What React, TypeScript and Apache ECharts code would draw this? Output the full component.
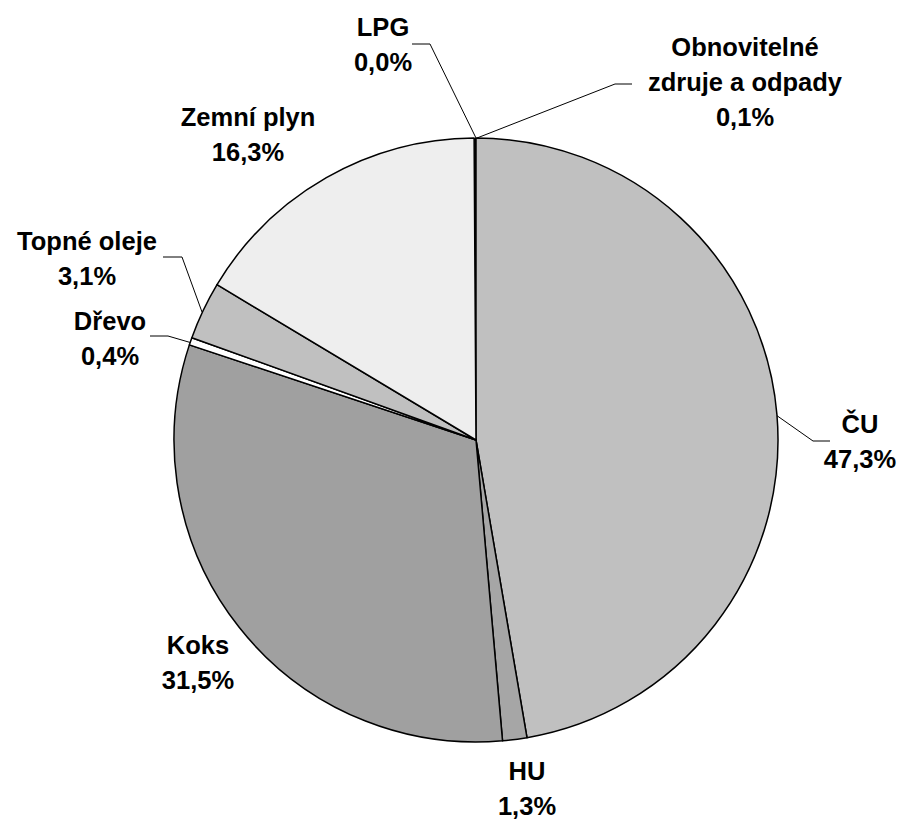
import React, { useEffect, useRef } from "react";
import * as echarts from "echarts";

const categories = [
  "ČU",
  "HU",
  "Koks",
  "Dřevo",
  "Topné oleje",
  "Zemní plyn",
  "LPG",
  "Obnovitelné\nzdruje a odpady",
];
const shares = [47.3, 1.3, 31.5, 0.4, 3.1, 16.3, 0.0, 0.1];
const sliceColors = ["#c0c0c0", "#a6a6a6", "#a0a0a0", "#ffffff", "#c0c0c0", "#eeeeee", "#000000", "#000000"];

// label anchor (centre of text block) and line elbow per slice
const labelAnchors: Record<number, [number, number]> = {
  0: [860, 441],
  1: [527, 788],
  2: [198, 662],
  3: [110, 338],
  4: [87, 258],
  5: [248, 134],
  6: [383, 44],
  7: [745, 82],
};
const labelLines: Record<number, number[][]> = {
  0: [[776, 415], [813, 441], [830, 441]],
  3: [[192, 343], [168, 336], [150, 336]],
  4: [[202, 312], [182, 257], [163, 257]],
  6: [[476, 138], [430, 44], [412, 44]],
  7: [[477, 138], [615, 84], [632, 84]],
};

export default function App() {
  const ref = useRef<HTMLDivElement>(null);
  useEffect(() => {
    if (!ref.current) return;
    const chart = echarts.init(ref.current, null, { renderer: "svg" });
    chart.setOption({
      animation: false,
      backgroundColor: "#ffffff",
      series: [
        {
          type: "pie",
          center: [476, 440],
          radius: [0, 302],
          startAngle: 90,
          clockwise: true,
          avoidLabelOverlap: false,
          itemStyle: { borderColor: "#000000", borderWidth: 1.5 },
          label: {
            show: true,
            position: "outside",
            color: "#000000",
            fontFamily: "Liberation Sans, Arial, sans-serif",
            fontWeight: "bold",
            fontSize: 25.5,
            lineHeight: 35,
            align: "center",
            formatter: (p: any) => `${p.name}\n${p.value.toFixed(1).replace(".", ",")}%`,
          },
          labelLine: { show: true, lineStyle: { color: "#000000", width: 1 } },
          labelLayout: (params: any) => {
            const i = params.dataIndex;
            const a = labelAnchors[i];
            const res: any = { x: a[0], y: a[1], align: "center", verticalAlign: "middle" };
            if (labelLines[i]) res.labelLinePoints = labelLines[i];
            return res;
          },
          data: categories.map((name, i) => ({
            name,
            value: shares[i],
            itemStyle: { color: sliceColors[i], borderWidth: shares[i] < 0.2 ? 0 : 1.5 },
            labelLine: { show: !!labelLines[i] },
          })),
        },
      ],
    });
    return () => chart.dispose();
  }, []);
  return (
    <div
      ref={ref}
      style={{ position: "fixed", left: 0, top: 0, width: 912, height: 819, background: "#fff" }}
    />
  );
}
